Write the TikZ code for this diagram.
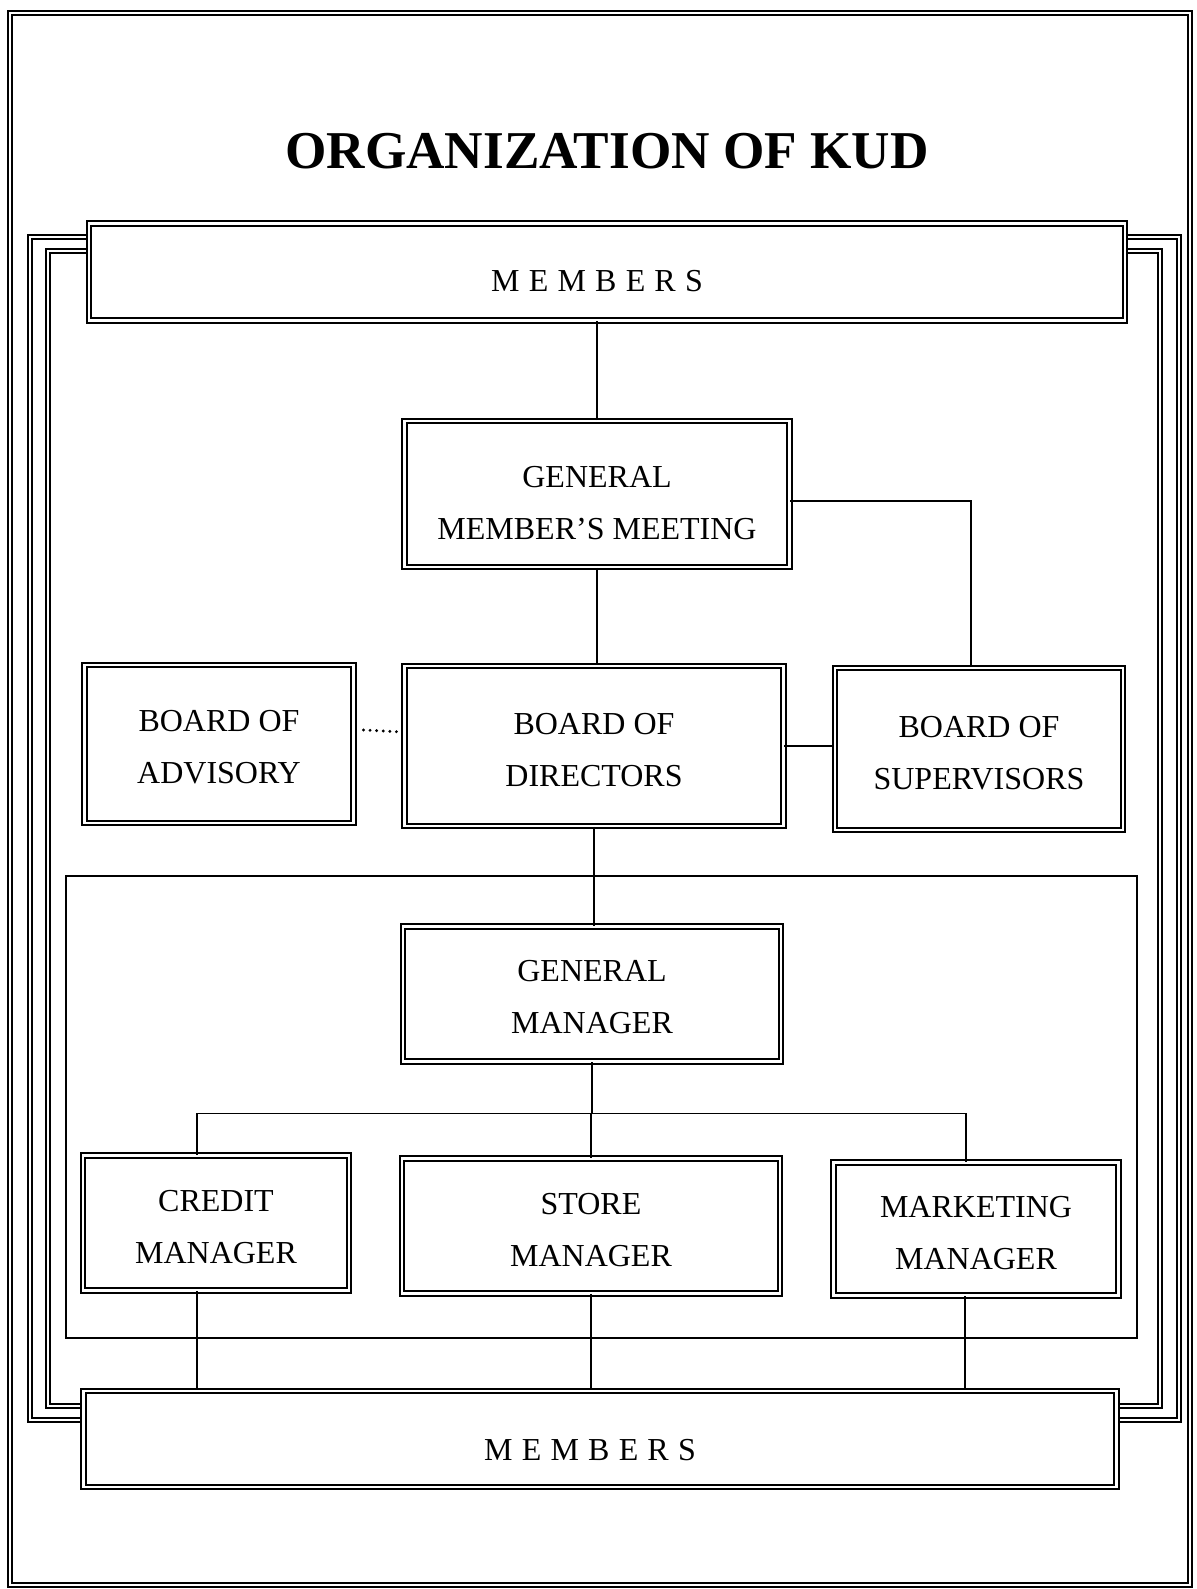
\documentclass[tikz,border=0pt]{standalone}
\usepackage{fontspec}
\setmainfont{Liberation Serif}
\usetikzlibrary{calc}
\newcommand\mbrsword{M\kern4.6pt E\kern4.6pt M\kern4.6pt B\kern4.6pt E\kern4.6pt R\kern4.6pt S}
\newcommand\twoline[3]{\raisebox{-#1}[\height][\depth]{\begin{tabular}{@{}c@{}}#2\\#3\end{tabular}}}
\newcommand\lowered[2]{\raisebox{-#1}[\height][\depth]{#2}}
\begin{document}
\begin{tikzpicture}[x=0.5pt,y=-0.5pt,
  dbl/.style={draw, double, double distance=1.4pt, line width=0.95pt},
  box/.style={dbl, inner sep=0pt, font=\fontsize{16}{26}\selectfont},
  conn/.style={line width=0.8pt},
  dots/.style={line width=1.6pt, line cap=round, dash pattern=on 0pt off 3.3pt},
  frame/.style={line width=0.9pt}]
\useasboundingbox (0,0) rectangle (1196,1589);
% page frame
\draw[dbl] (10,13) rectangle (1190,1585);
% title
\node[font=\fontsize{26.6}{30}\selectfont\bfseries] (title) at (607,151) {ORGANIZATION OF KUD};
% outer and inner double frames
\draw[dbl] (89,237) -- (30,237) -- (30,1420) -- (83,1420);
\draw[dbl] (1125,237) -- (1179,237) -- (1179,1420) -- (1116,1420);
\draw[dbl] (89,251) -- (48,251) -- (48,1406) -- (83,1406);
\draw[dbl] (1125,251) -- (1160,251) -- (1160,1406) -- (1116,1406);
% management frame
\draw[frame] (66,876) rectangle (1137,1338);
% boxes
\node[box, minimum width=518pt, minimum height=48.5pt] (mtop) at (607,272) {\lowered{4.3pt}{\kern-10pt\mbrsword}};
\node[box, minimum width=516.5pt, minimum height=48pt] (mbot) at (600,1439) {\lowered{5.6pt}{\kern-10pt\mbrsword}};
\node[box, minimum width=192.5pt, minimum height=73pt] (gmm) at (597,494) {\twoline{4.3pt}{GENERAL}{MEMBER'S MEETING}};
\node[box, minimum width=134.5pt, minimum height=79pt] (adv) at (219,744) {\twoline{1.6pt}{BOARD OF}{ADVISORY}};
\node[box, minimum width=189.5pt, minimum height=80pt] (bod) at (594,746) {\twoline{1.8pt}{BOARD OF}{DIRECTORS}};
\node[box, minimum width=144pt, minimum height=81pt] (sup) at (979,749) {\twoline{1.8pt}{BOARD OF}{SUPERVISORS}};
\node[box, minimum width=189pt, minimum height=67.5pt] (gm) at (592,994) {\twoline{1.6pt}{GENERAL}{MANAGER}};
\node[box, minimum width=133pt, minimum height=67.5pt] (cm) at (216,1223) {\twoline{2.2pt}{CREDIT}{MANAGER}};
\node[box, minimum width=189pt, minimum height=67.5pt] (sm) at (591,1226) {\twoline{2pt}{STORE}{MANAGER}};
\node[box, minimum width=142.5pt, minimum height=66.5pt] (mm) at (976,1229) {\twoline{1.8pt}{MARKETING}{MANAGER}};
% connectors
\draw[conn] (gmm.north) -- (gmm.north |- mtop.south);
\draw[conn] ($(gmm.east)+(0,7)$) -| ($(sup.north)+(-8,0)$);
\draw[conn] (gmm.south) -- (gmm.south |- bod.north);
\draw[conn] (bod.east) -- (bod.east -| sup.west);
\draw[dots] ($(adv.east)+(9,-14)$) -- ($(bod.west)+(-2,-14)$);
\draw[conn] (bod.south) -- (bod.south |- gm.north);
\coordinate (bus) at ($(gm.south)+(0,51)$);
\draw[conn] (gm.south) -- (bus);
\draw[conn] ($(cm.north)+(-19,0)$) |- (bus) -| ($(mm.north)+(-10,0)$);
\draw[conn] (bus) -- (bus -| sm.north) -- (sm.north);
\draw[conn] ($(cm.south)+(-19,0)$) -- ($(cm.south |- mbot.north)+(-19,0)$);
\draw[conn] (sm.south) -- (sm.south |- mbot.north);
\draw[conn] ($(mm.south)+(-11,0)$) -- ($(mm.south |- mbot.north)+(-11,0)$);
\end{tikzpicture}
\end{document}
